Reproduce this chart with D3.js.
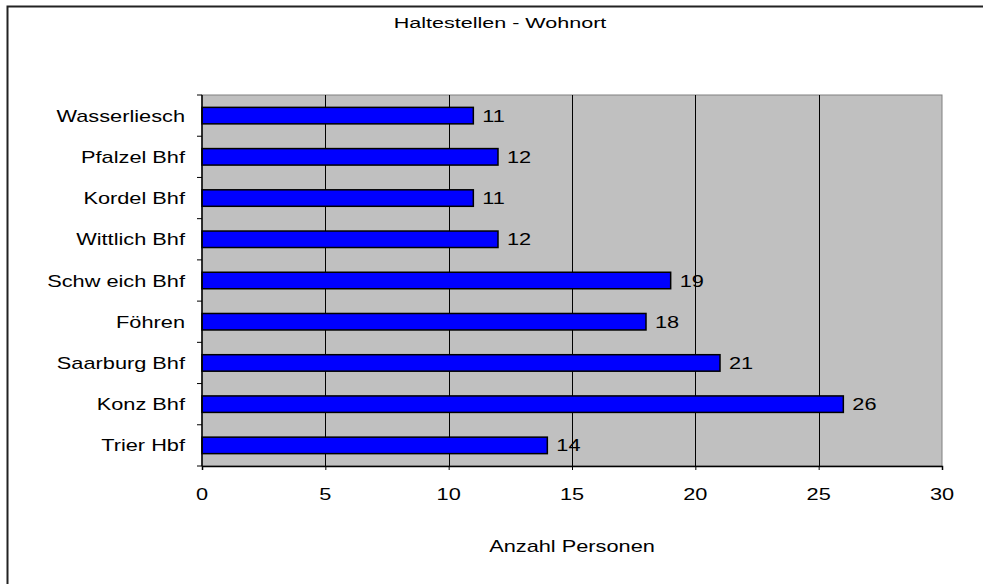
<!DOCTYPE html>
<html>
<head>
<meta charset="utf-8">
<script src="https://cdn.jsdelivr.net/npm/d3@7"></script>
<style>
  html, body { margin: 0; background: #fff; overflow: hidden; }
  svg { display: block; }
  text { font-family: "Liberation Sans", Arial, sans-serif; fill: #000; }
</style>
</head>
<body>
<svg id="chart"></svg>
<script>
// data
const stops = ["Wasserliesch", "Pfalzel Bhf", "Kordel Bhf", "Wittlich Bhf", "Schw eich Bhf", "Föhren", "Saarburg Bhf", "Konz Bhf", "Trier Hbf"];
const persons = [11, 12, 11, 12, 19, 18, 21, 26, 14];
const xTicks = [0, 5, 10, 15, 20, 25, 30];
const title = "Haltestellen - Wohnort";
const xTitle = "Anzahl Personen";

const width = 983;
const height = 584;
const marginTop = 95;
const marginRight = 41;
const marginBottom = 118;
const marginLeft = 202;

const data = stops.map((s, i) => ({stop: s, n: persons[i]}));

const x = d3.scaleLinear()
    .domain([0, 30])
    .range([marginLeft, width - marginRight]);

const y = d3.scaleBand()
    .domain(stops)
    .range([marginTop, height - marginBottom])
    .paddingInner(0.6)
    .paddingOuter(0.3);

const svg = d3.select("#chart")
    .attr("width", width)
    .attr("height", height)
    .attr("viewBox", [0, 0, width, height]);

// helper: the original text looks horizontally stretched
function label(g, tx, ty, str, anchor, size, sx = 1.28) {
  return g.append("text")
      .attr("transform", `translate(${tx},${ty}) scale(${sx},1)`)
      .attr("text-anchor", anchor)
      .attr("font-size", size)
      .text(str);
}

// outer frame: only top and left edges are in view
svg.append("path")
    .attr("d", `M7.5,${height}V6.5H${width}`)
    .attr("fill", "none")
    .attr("stroke", "#222")
    .attr("stroke-width", 2);

// plot area
svg.append("rect")
    .attr("x", marginLeft).attr("y", marginTop)
    .attr("width", x(30) - marginLeft)
    .attr("height", height - marginBottom - marginTop)
    .attr("fill", "#c0c0c0")
    .attr("stroke", "#808080");

// vertical grid lines
svg.append("g")
  .selectAll("line")
  .data(xTicks.slice(1, -1))
  .join("line")
    .attr("x1", d => Math.round(x(d)) + 0.5)
    .attr("x2", d => Math.round(x(d)) + 0.5)
    .attr("y1", marginTop)
    .attr("y2", height - marginBottom)
    .attr("stroke", "#000");

// bars
svg.append("g")
  .selectAll("rect")
  .data(data)
  .join("rect")
    .attr("x", x(0))
    .attr("y", d => y(d.stop))
    .attr("width", d => x(d.n) - x(0))
    .attr("height", y.bandwidth())
    .attr("fill", "#0000ff")
    .attr("stroke", "#000")
    .attr("stroke-width", 1.5);

// value labels
const vl = svg.append("g");
data.forEach(d => {
  label(vl, x(d.n) + 9, y(d.stop) + y.bandwidth() / 2 + 6, d.n, "start", 17);
});

// x axis
svg.append("g")
    .attr("transform", `translate(0,${height - marginBottom})`)
    .call(d3.axisBottom(x).tickValues(xTicks).tickSize(4).tickFormat(""))
    .call(g => g.select(".domain").attr("stroke", "#000").attr("stroke-width", 1.5));
const xl = svg.append("g");
xTicks.forEach(t => label(xl, x(t), 500, t, "middle", 17));

// y axis: ticks at category boundaries
const bounds = d3.range(stops.length + 1).map(i => marginTop + i * y.step());
svg.append("g")
  .selectAll("line")
  .data(bounds)
  .join("line")
    .attr("x1", marginLeft - 5).attr("x2", marginLeft)
    .attr("y1", d => d).attr("y2", d => d)
    .attr("stroke", "#000");
svg.append("line")
    .attr("x1", marginLeft).attr("x2", marginLeft)
    .attr("y1", marginTop).attr("y2", height - marginBottom)
    .attr("stroke", "#000").attr("stroke-width", 1.5);

const yl = svg.append("g");
stops.forEach(s => label(yl, 185, y(s) + y.bandwidth() / 2 + 6, s, "end", 17));

// titles
label(svg, 500, 28, title, "middle", 15.5, 1.39);
label(svg, (marginLeft + x(30)) / 2, 552, xTitle, "middle", 17);
</script>
</body>
</html>
